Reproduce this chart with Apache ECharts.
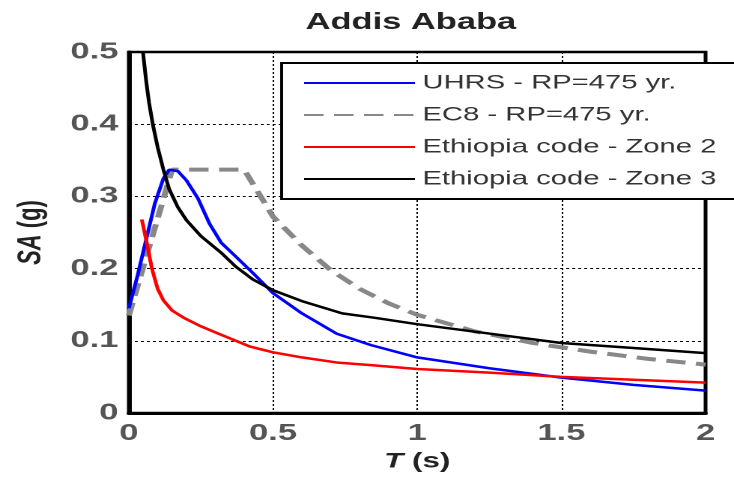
<!DOCTYPE html>
<html>
<head>
<meta charset="utf-8">
<script src="https://cdn.jsdelivr.net/npm/echarts@6/dist/echarts.min.js"></script>
<style>
  html, body { margin: 0; padding: 0; background: #fff; overflow: hidden; }
  /* the source picture is stretched sideways, so draw narrow and widen */
  #chart { width: 490px; height: 484px; transform: scaleX(1.498); transform-origin: 0 0; }
</style>
</head>
<body>
<div id="chart"></div>
<script>
// T (s) / SA (g) readings per curve
var uhrsT  = [0, 0.03, 0.06, 0.09, 0.12, 0.14, 0.17, 0.2, 0.24, 0.28, 0.32, 0.37, 0.43, 0.5, 0.6, 0.72, 0.84, 1.0, 1.25, 1.5, 1.75, 2.0]
var uhrsSA = [0.145, 0.19, 0.24, 0.29, 0.325, 0.337, 0.335, 0.322, 0.297, 0.262, 0.236, 0.217, 0.194, 0.166, 0.138, 0.11, 0.094, 0.077, 0.062, 0.049, 0.039, 0.031]

var ec8T  = [0, 0.15, 0.4, 0.5, 0.6, 0.7, 0.8, 0.9, 1.0, 1.2, 1.4, 1.6, 1.8, 2.0]
var ec8SA = [0.135, 0.337, 0.337, 0.272, 0.232, 0.198, 0.172, 0.152, 0.136, 0.113, 0.097, 0.085, 0.075, 0.067]

var zone2T  = [0.045, 0.06, 0.08, 0.1, 0.12, 0.15, 0.19, 0.25, 0.31, 0.42, 0.5, 0.6, 0.72, 0.85, 1.0, 1.25, 1.5, 1.75, 2.0]
var zone2SA = [0.268, 0.24, 0.2, 0.172, 0.156, 0.142, 0.132, 0.12, 0.11, 0.092, 0.084, 0.077, 0.07, 0.066, 0.061, 0.056, 0.05, 0.046, 0.042]

var zone3T  = [0.049, 0.06, 0.07, 0.083, 0.1, 0.12, 0.14, 0.17, 0.2, 0.25, 0.32, 0.37, 0.43, 0.5, 0.6, 0.74, 0.85, 1.0, 1.25, 1.5, 1.75, 2.0]
var zone3SA = [0.5, 0.46, 0.43, 0.4, 0.368, 0.337, 0.31, 0.285, 0.267, 0.245, 0.222, 0.203, 0.185, 0.17, 0.155, 0.138, 0.132, 0.123, 0.11, 0.097, 0.09, 0.083]

var names = ['UHRS - RP=475 yr.', 'EC8 - RP=475 yr.', 'Ethiopia code - Zone 2', 'Ethiopia code - Zone 3']

function pairs(xs, ys) {
  return xs.map(function (x, i) { return [x, ys[i]] })
}

var font = "'Liberation Sans', Arial, sans-serif"

var chart = echarts.init(document.getElementById('chart'), null, {devicePixelRatio: 2})

chart.setOption({
  animation: false,
  title: {
    text: 'Addis Ababa',
    left: 199,
    top: 6,
    textStyle: {fontFamily: font, fontSize: 23, fontWeight: 'bold', color: '#222'}
  },
  grid: {
    left: 86, right: 19, top: 52, bottom: 71,
    show: true, borderColor: '#000', borderWidth: 2.5
  },
  legend: {
    orient: 'vertical',
    left: 188,
    top: 63,
    padding: [10, 22, 10, 14],
    itemWidth: 74,
    itemHeight: 20,
    itemGap: 12,
    itemStyle: {opacity: 0},
    backgroundColor: '#fff',
    borderColor: '#000',
    borderWidth: 2,
    textStyle: {fontFamily: font, fontSize: 19.5, color: '#333', lineHeight: 20},
    data: names
  },
  xAxis: {
    type: 'value',
    min: 0, max: 2, interval: 0.5,
    name: '{i|T} (s)',
    nameLocation: 'middle',
    nameGap: 38,
    nameTextStyle: {
      fontFamily: font, fontSize: 21, fontWeight: 'bold', color: '#222',
      rich: {i: {fontFamily: font, fontSize: 21, fontWeight: 'bold', fontStyle: 'italic', color: '#222'}}
    },
    axisLine: {lineStyle: {color: '#000', width: 3}},
    axisTick: {show: false},
    axisLabel: {fontFamily: font, fontSize: 23, fontWeight: 'bold', color: '#555', margin: 9},
    splitLine: {lineStyle: {color: '#000', width: 1, type: [2, 2]}}
  },
  yAxis: {
    type: 'value',
    min: 0, max: 0.5, interval: 0.1,
    name: '{i|SA} (g)',
    nameLocation: 'middle',
    nameGap: 54,
    nameTextStyle: {
      fontFamily: font, fontSize: 22, fontWeight: 'bold', color: '#222',
      rich: {i: {fontFamily: font, fontSize: 22, fontWeight: 'bold', fontStyle: 'italic', color: '#222'}}
    },
    axisLine: {show: true, lineStyle: {color: '#000', width: 3}},
    axisTick: {show: false},
    axisLabel: {fontFamily: font, fontSize: 23, fontWeight: 'bold', color: '#555', margin: 7},
    splitLine: {lineStyle: {color: '#000', width: 1, type: [2, 2]}}
  },
  series: [
    {
      name: names[0], type: 'line', symbol: 'none', z: 4,
      lineStyle: {color: '#0000ff', width: 2.5},
      itemStyle: {color: '#0000ff'},
      data: pairs(uhrsT, uhrsSA)
    },
    {
      name: names[1], type: 'line', symbol: 'none', z: 3,
      lineStyle: {color: '#888', width: 4, type: [13, 7]},
      itemStyle: {color: '#888'},
      data: pairs(ec8T, ec8SA)
    },
    {
      name: names[2], type: 'line', symbol: 'none', z: 5,
      lineStyle: {color: '#ff0000', width: 2.5},
      itemStyle: {color: '#ff0000'},
      data: pairs(zone2T, zone2SA)
    },
    {
      name: names[3], type: 'line', symbol: 'none', z: 6,
      lineStyle: {color: '#000', width: 2.5},
      itemStyle: {color: '#000'},
      data: pairs(zone3T, zone3SA)
    }
  ]
})
</script>
</body>
</html>
